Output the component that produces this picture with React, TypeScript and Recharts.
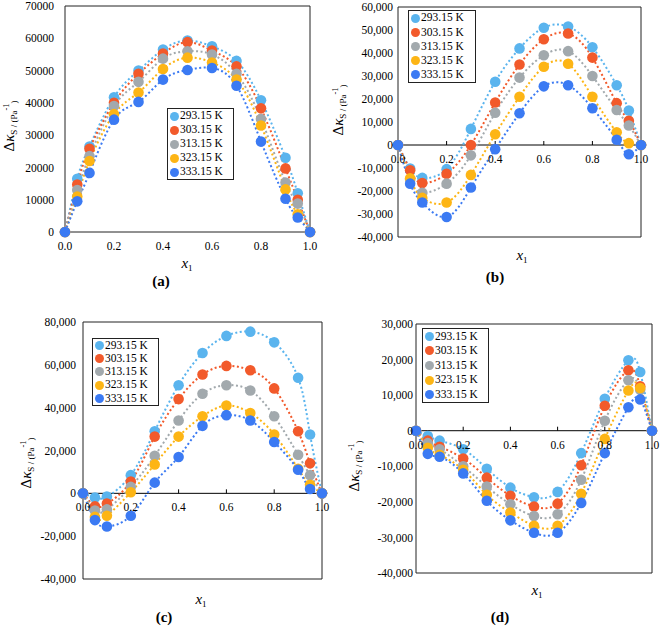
import React from 'react';
import {
  LineChart,
  Line,
  XAxis,
  YAxis,
  ReferenceArea,
  ReferenceLine,
  ReferenceDot,
} from 'recharts';

const FONT = "'Liberation Serif', 'DejaVu Serif', serif";
const TICK_SIZE = 11.5;

// mole fraction x1 (shared by all four panels)
const X1 = [0, 0.05, 0.1, 0.2, 0.3, 0.4, 0.5, 0.6, 0.7, 0.8, 0.9, 0.95, 1.0];
const TEMPS = ['293.15 K', '303.15 K', '313.15 K', '323.15 K', '333.15 K'];
const COLORS = ['#5AB4EE', '#F25A2B', '#A2A9AD', '#FDB515', '#3B7AF3'];
const X_TICKS = [0, 0.2, 0.4, 0.6, 0.8, 1.0];

// panel (a)
const A_293 = [0, 16500, 26500, 41700, 50000, 56500, 59300, 57500, 53000, 40800, 23000, 12000, 0];
const A_303 = [0, 14700, 25800, 40000, 49000, 55300, 58800, 56200, 51300, 38300, 19700, 10000, 0];
const A_313 = [0, 13000, 23500, 39000, 46500, 53700, 56000, 55000, 49000, 35000, 15300, 8800, 0];
const A_323 = [0, 11000, 22000, 36500, 43200, 50500, 54000, 52500, 47200, 33000, 13200, 5500, 0];
const A_333 = [0, 9500, 18300, 34800, 40300, 47200, 50200, 50800, 45300, 28000, 10300, 4500, 0];
const A_TICKS = [0, 10000, 20000, 30000, 40000, 50000, 60000, 70000];

// panel (b)
const B_293 = [0, -10200, -14300, -10500, 7000, 27500, 42000, 51000, 51500, 42500, 26000, 15000, 0];
const B_303 = [0, -11000, -16500, -12500, 0, 18500, 35000, 46000, 48500, 38000, 18200, 10500, 0];
const B_313 = [0, -15000, -20800, -16800, -4500, 14000, 29300, 39000, 40800, 30000, 15200, 8500, 0];
const B_323 = [0, -14500, -23000, -25000, -13000, 4700, 21000, 34000, 35300, 21000, 5500, 800, 0];
const B_333 = [0, -16800, -25000, -31300, -18500, -1800, 13800, 25500, 26000, 16000, 2300, -4000, 0];
const B_TICKS = [-40000, -30000, -20000, -10000, 0, 10000, 20000, 30000, 40000, 50000, 60000];

// panel (c)
const C_293 = [0, -2000, -1500, 8500, 29000, 50500, 65500, 73500, 75500, 70500, 54000, 27500, 0];
const C_303 = [0, -6000, -4800, 5500, 26500, 44000, 55500, 59500, 57500, 49000, 29000, 14000, 0];
const C_313 = [0, -8000, -7500, 3000, 17500, 34000, 46500, 50500, 48000, 36000, 18000, 8500, 0];
const C_323 = [0, -11000, -10500, 500, 13500, 26500, 36000, 41000, 37500, 27500, 11500, 4000, 0];
const C_333 = [0, -12500, -15500, -10500, 5000, 17000, 31500, 36500, 34000, 24000, 11000, 2000, 0];
const C_TICKS = [-40000, -20000, 0, 20000, 40000, 60000, 80000];

// panel (d)
const D_293 = [0, -1500, -2800, -5200, -10700, -16000, -18700, -17200, -6300, 9000, 19800, 16500, 0];
const D_303 = [0, -2800, -4500, -7800, -13200, -18300, -21300, -20500, -9700, 7000, 17000, 12500, 0];
const D_313 = [0, -3500, -5200, -10000, -15700, -20700, -24000, -23500, -13800, 2800, 14200, 11500, 0];
const D_323 = [0, -4800, -6800, -11000, -18000, -23000, -26700, -26700, -17700, -2300, 11300, 12000, 0];
const D_333 = [0, -6500, -7300, -12000, -19700, -25200, -28700, -28700, -20300, -6300, 6600, 8800, 0];
const D_TICKS = [-40000, -30000, -20000, -10000, 0, 10000, 20000, 30000];

function toRows(series: number[][]) {
  return X1.map((x, i) => {
    const row: Record<string, number> = { x };
    series.forEach((s, k) => {
      row[`s${k}`] = s[i];
    });
    return row;
  });
}

interface PanelProps {
  series: number[][];
  ticks: number[];
  comma: boolean;
  zeroAxis: boolean;
  left: number;
  top: number;
  width: number;
  height: number;
  margin: { top: number; right: number; bottom: number; left: number };
  yWidth: number;
  yGap: number;
  legend: { left: number; top: number; width: number; row: number };
}

function fmt(v: number, comma: boolean) {
  return comma ? v.toLocaleString('en-US') : String(v);
}

function TickMark(props: any) {
  const { cx, cy } = props;
  if (cx == null || cy == null) return null;
  return <line x1={cx} y1={cy} x2={cx} y2={cy - 4} stroke="#000" strokeWidth={1} />;
}

function Panel(p: PanelProps) {
  const data = toRows(p.series);
  const yMin = p.ticks[0];
  const yMax = p.ticks[p.ticks.length - 1];
  return (
    <>
      <div style={{ position: 'absolute', left: p.left, top: p.top }}>
        <LineChart width={p.width} height={p.height} data={data} margin={p.margin}>
          <XAxis
            dataKey="x"
            type="number"
            domain={[0, 1]}
            ticks={X_TICKS}
            tickFormatter={(v: number) => v.toFixed(1)}
            hide={p.zeroAxis}
            height={28}
            axisLine={false}
            tickLine={false}
            tickSize={0}
            tickMargin={10}
            tick={{ fill: '#000', fontSize: TICK_SIZE, fontFamily: FONT }}
          />
          <YAxis
            type="number"
            domain={[yMin, yMax]}
            ticks={p.ticks}
            width={p.yWidth}
            axisLine={false}
            tickLine={false}
            tickSize={0}
            tickMargin={p.yGap}
            interval={0}
            tickFormatter={(v: number) => fmt(v, p.comma)}
            tick={{ fill: '#000', fontSize: TICK_SIZE, fontFamily: FONT }}
          />
          {p.zeroAxis && <ReferenceLine y={0} stroke="#000" strokeWidth={1} />}
          {p.zeroAxis &&
            X_TICKS.map((t) => (
              <ReferenceDot
                key={t}
                x={t}
                y={0}
                r={0}
                shape={TickMark}
                label={{
                  value: t.toFixed(1),
                  position: 'bottom',
                  offset: 10,
                  fill: '#000',
                  fontSize: TICK_SIZE,
                  fontFamily: FONT,
                }}
              />
            ))}
          {p.series.map((_, k) => (
            <Line
              key={k}
              dataKey={`s${k}`}
              name={TEMPS[k]}
              type="natural"
              stroke={COLORS[k]}
              strokeWidth={2}
              strokeDasharray="2 2.5"
              dot={{ r: 5.3, fill: COLORS[k], stroke: 'none', strokeDasharray: '' }}
              activeDot={false}
              isAnimationActive={false}
            />
          ))}
          <ReferenceArea
            x1={0}
            x2={1}
            y1={yMin}
            y2={yMax}
            fill="none"
            stroke="#222"
            strokeWidth={1}
            ifOverflow="visible"
          />
        </LineChart>
      </div>
      <div
        style={{
          position: 'absolute',
          left: p.legend.left,
          top: p.legend.top,
          width: p.legend.width,
          border: '1px solid #222',
          background: '#fff',
          padding: '0 0 0 2px',
          fontFamily: FONT,
          fontSize: 11.5,
          lineHeight: 1,
          color: '#000',
        }}
      >
        {TEMPS.map((t, k) => (
          <div key={t} style={{ display: 'flex', alignItems: 'center', height: p.legend.row }}>
            <span
              style={{
                display: 'inline-block',
                width: 9,
                height: 9,
                borderRadius: '50%',
                background: COLORS[k],
                marginRight: 1,
                flexShrink: 0,
              }}
            />
            <span style={{ whiteSpace: 'nowrap' }}>{t}</span>
          </div>
        ))}
      </div>
    </>
  );
}

function YLabel({ x, y }: { x: number; y: number }) {
  return (
    <text
      transform={`translate(${x},${y}) rotate(-90)`}
      textAnchor="middle"
      fontFamily={FONT}
      fill="#000"
    >
      <tspan fontSize={15}>Δ</tspan>
      <tspan fontSize={15} fontStyle="italic">κ</tspan>
      <tspan fontSize={9} dy={3}>S</tspan>
      <tspan fontSize={9}> / (Pa</tspan>
      <tspan fontSize={8.5} dy={-8}>-1</tspan>
      <tspan fontSize={9} dy={8}>)</tspan>
    </text>
  );
}

function XLabel({ x, y }: { x: number; y: number }) {
  return (
    <text x={x} y={y} textAnchor="middle" fontFamily={FONT} fill="#000">
      <tspan fontSize={15} fontStyle="italic">x</tspan>
      <tspan fontSize={9} dy={3}>1</tspan>
    </text>
  );
}

function Tag({ x, y, s }: { x: number; y: number; s: string }) {
  return (
    <text x={x} y={y} textAnchor="middle" fontFamily={FONT} fontSize={15} fontWeight="bold" fill="#000">
      {s}
    </text>
  );
}

export default function App() {
  return (
    <div
      style={{
        position: 'absolute',
        left: 0,
        top: 0,
        width: 661,
        height: 627,
        background: '#fff',
        overflow: 'hidden',
      }}
    >
      <Panel
        series={[A_293, A_303, A_313, A_323, A_333]}
        ticks={A_TICKS}
        comma={false}
        zeroAxis={false}
        left={0}
        top={0}
        width={330}
        height={260}
        margin={{ top: 6, right: 20, bottom: 0, left: 5 }}
        yWidth={60}
        yGap={11}
        legend={{ left: 167, top: 108, width: 63, row: 14 }}
      />
      <Panel
        series={[B_293, B_303, B_313, B_323, B_333]}
        ticks={B_TICKS}
        comma
        zeroAxis
        left={330}
        top={0}
        width={331}
        height={300}
        margin={{ top: 7, right: 20, bottom: 63, left: 5 }}
        yWidth={63}
        yGap={5}
        legend={{ left: 408, top: 10, width: 64, row: 14.2 }}
      />
      <Panel
        series={[C_293, C_303, C_313, C_323, C_333]}
        ticks={C_TICKS}
        comma
        zeroAxis
        left={0}
        top={300}
        width={330}
        height={327}
        margin={{ top: 22, right: 8, bottom: 48, left: 5 }}
        yWidth={78}
        yGap={7}
        legend={{ left: 92, top: 338, width: 63, row: 13.2 }}
      />
      <Panel
        series={[D_293, D_303, D_313, D_323, D_333]}
        ticks={D_TICKS}
        comma
        zeroAxis
        left={330}
        top={300}
        width={331}
        height={327}
        margin={{ top: 24, right: 9, bottom: 54, left: 5 }}
        yWidth={81}
        yGap={3}
        legend={{ left: 422, top: 328, width: 63, row: 14.6 }}
      />
      <svg
        width={661}
        height={627}
        style={{ position: 'absolute', left: 0, top: 0, pointerEvents: 'none' }}
      >
        <YLabel x={14} y={126} />
        <YLabel x={343} y={110} />
        <YLabel x={31} y={463} />
        <YLabel x={359} y={466} />
        <XLabel x={187} y={268} />
        <XLabel x={522} y={260} />
        <XLabel x={201} y={604} />
        <XLabel x={537} y={595} />
        <Tag x={161} y={286} s="(a)" />
        <Tag x={495} y={282} s="(b)" />
        <Tag x={164} y={622} s="(c)" />
        <Tag x={500} y={622} s="(d)" />
      </svg>
    </div>
  );
}
